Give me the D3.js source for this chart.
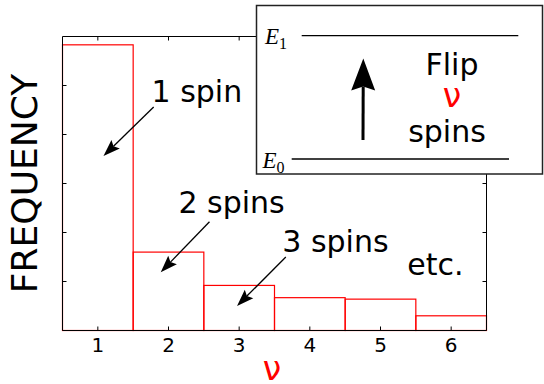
<!DOCTYPE html>
<html>
<head>
<meta charset="utf-8">
<script src="https://cdn.jsdelivr.net/npm/d3@7"></script>
<style>
  html, body { margin: 0; padding: 0; background: #fff; }
  svg { display: block; }
</style>
</head>
<body>
<svg id="chart" width="544" height="384"></svg>
<script>
// Number of spins flipped (nu) and how often each occurs
const categories = [1, 2, 3, 4, 5, 6];
const frequency = [0.583, 0.160, 0.092, 0.067, 0.064, 0.030];
const xTickLabels = ["1", "2", "3", "4", "5", "6"];
const yTickValues = [0.1, 0.2, 0.3, 0.4, 0.5];

// Callouts: label text, text anchor point and arrow tip (data units)
const calloutText = ["1 spin", "2 spins", "3 spins", "etc."];
const calloutAt = [[1.76, 0.466], [2.14, 0.239], [3.61, 0.161], [5.38, 0.113]];
const calloutTip = [[1.08, 0.356], [1.89, 0.119], [2.97, 0.050], null];
const calloutTail = [[1.79, 0.456], [2.58, 0.222], [3.66, 0.150], null];

// Energy-level sketch
const levelSub = ["0", "1"];

const svg = d3.select("#chart");
const plotL = 62.5, plotR = 486.5, plotT = 36.5, plotB = 330.5;

const x = d3.scaleLinear().domain([0.5, 6.5]).range([plotL, plotR]);
const y = d3.scaleLinear().domain([0, 0.6]).range([plotB, plotT]);

const font = "'DejaVu Sans', 'Bitstream Vera Sans', sans-serif";

// Histogram bars
svg.append("g")
  .selectAll("rect")
  .data(categories)
  .join("rect")
  .attr("x", (d) => x(d - 0.5))
  .attr("y", (d, i) => y(frequency[i]))
  .attr("width", (d) => x(d + 0.5) - x(d - 0.5))
  .attr("height", (d, i) => y(0) - y(frequency[i]))
  .attr("fill", "none")
  .attr("stroke", "#ff0000")
  .attr("stroke-width", 1.2);

// Axes with inward ticks on all four sides
const tickLen = 4;
const axisBottom = d3.axisBottom(x).tickValues(categories).offset(0)
  .tickFormat((d, i) => xTickLabels[i]).tickSizeInner(-tickLen).tickSizeOuter(0).tickPadding(7);
const axisTop = d3.axisTop(x).tickValues(categories).offset(0)
  .tickFormat("").tickSizeInner(-tickLen).tickSizeOuter(0);
const axisLeft = d3.axisLeft(y).tickValues(yTickValues).offset(0)
  .tickFormat("").tickSizeInner(-tickLen).tickSizeOuter(0);
const axisRight = d3.axisRight(y).tickValues(yTickValues).offset(0)
  .tickFormat("").tickSizeInner(-tickLen).tickSizeOuter(0);

function styleAxis(g) {
  g.selectAll(".domain").attr("stroke", "#000").attr("stroke-width", 1);
  g.selectAll(".tick line").attr("stroke", "#000").attr("stroke-width", 1);
  g.selectAll(".tick text")
    .attr("font-family", font).attr("font-size", 20).attr("fill", "#000");
}

svg.append("g").attr("transform", `translate(0,${plotB})`).call(axisBottom).call(styleAxis)
  .selectAll(".tick text").attr("dy", "0.71em");
svg.append("g").attr("transform", `translate(0,${plotT})`).call(axisTop).call(styleAxis);
svg.append("g").attr("transform", `translate(${plotL},0)`).call(axisLeft).call(styleAxis);
svg.append("g").attr("transform", `translate(${plotR},0)`).call(axisRight).call(styleAxis);

// Axis titles
svg.append("text")
  .attr("transform", `translate(37,${(plotT + plotB) / 2}) rotate(-90)`)
  .attr("text-anchor", "middle")
  .attr("font-family", font).attr("font-size", 36).attr("fill", "#000")
  .text("FREQUENCY");

svg.append("text")
  .attr("x", 272).attr("y", 380)
  .attr("text-anchor", "middle")
  .attr("font-family", font).attr("font-size", 33).attr("fill", "#ff0000")
  .text("ν");

// Arrow with a filled, slightly notched head
function arrowPath(x1, y1, x2, y2, len, half, notch) {
  const dx = x2 - x1, dy = y2 - y1;
  const L = Math.hypot(dx, dy);
  const ux = dx / L, uy = dy / L;
  const bx = x2 - ux * len, by = y2 - uy * len;
  const nx = x2 - ux * (len - notch), ny = y2 - uy * (len - notch);
  const px = -uy, py = ux;
  const head = d3.path();
  head.moveTo(x2, y2);
  head.lineTo(bx + px * half, by + py * half);
  head.lineTo(nx, ny);
  head.lineTo(bx - px * half, by - py * half);
  head.closePath();
  return { shaft: [[x1, y1], [nx, ny]], head: head.toString() };
}

const callouts = svg.append("g");
calloutText.forEach((t, i) => {
  callouts.append("text")
    .attr("x", x(calloutAt[i][0])).attr("y", y(calloutAt[i][1]))
    .attr("font-family", font).attr("font-size", 30).attr("fill", "#000")
    .text(t);
  if (calloutTip[i]) {
    const a = arrowPath(x(calloutTail[i][0]), y(calloutTail[i][1]),
                        x(calloutTip[i][0]), y(calloutTip[i][1]), 17, 6, 3);
    callouts.append("path").attr("d", d3.line()(a.shaft))
      .attr("stroke", "#000").attr("stroke-width", 1.3).attr("fill", "none");
    callouts.append("path").attr("d", a.head).attr("fill", "#000");
  }
});

// Inset: two energy levels and the flip
const inset = svg.append("g");
inset.append("rect")
  .attr("x", 256.5).attr("y", 5.5).attr("width", 286).attr("height", 168.5)
  .attr("fill", "#fff").attr("stroke", "#222").attr("stroke-width", 1.5);

const levelY = [159, 35.7];
const levelX = [[291.7, 509], [301.7, 518.3]];
const labelX = [262.5, 265];
levelSub.forEach((s, i) => {
  inset.append("line")
    .attr("x1", levelX[i][0]).attr("x2", levelX[i][1])
    .attr("y1", levelY[i]).attr("y2", levelY[i])
    .attr("stroke", "#000").attr("stroke-width", 1.3);
  const lbl = inset.append("text")
    .attr("x", labelX[i]).attr("y", levelY[i] + 8.5)
    .attr("font-family", "'Liberation Serif', 'DejaVu Serif', serif")
    .attr("fill", "#000");
  lbl.append("tspan").attr("font-style", "italic").attr("font-size", 23).text("E");
  lbl.append("tspan").attr("font-size", 16).attr("dy", 5).text(s);
});

const up = arrowPath(363, 140, 363.3, 58.5, 32, 12, 4);
inset.append("path").attr("d", d3.line()(up.shaft))
  .attr("stroke", "#000").attr("stroke-width", 3).attr("fill", "none");
inset.append("path").attr("d", up.head).attr("fill", "#000");

inset.append("text").attr("x", 452).attr("y", 75)
  .attr("text-anchor", "middle")
  .attr("font-family", font).attr("font-size", 30).attr("fill", "#000").text("Flip");
inset.append("text").attr("x", 452).attr("y", 106.5)
  .attr("text-anchor", "middle")
  .attr("font-family", font).attr("font-size", 33).attr("fill", "#ff0000").text("ν");
inset.append("text").attr("x", 447).attr("y", 141.5)
  .attr("text-anchor", "middle")
  .attr("font-family", font).attr("font-size", 30).attr("fill", "#000").text("spins");
</script>
</body>
</html>
